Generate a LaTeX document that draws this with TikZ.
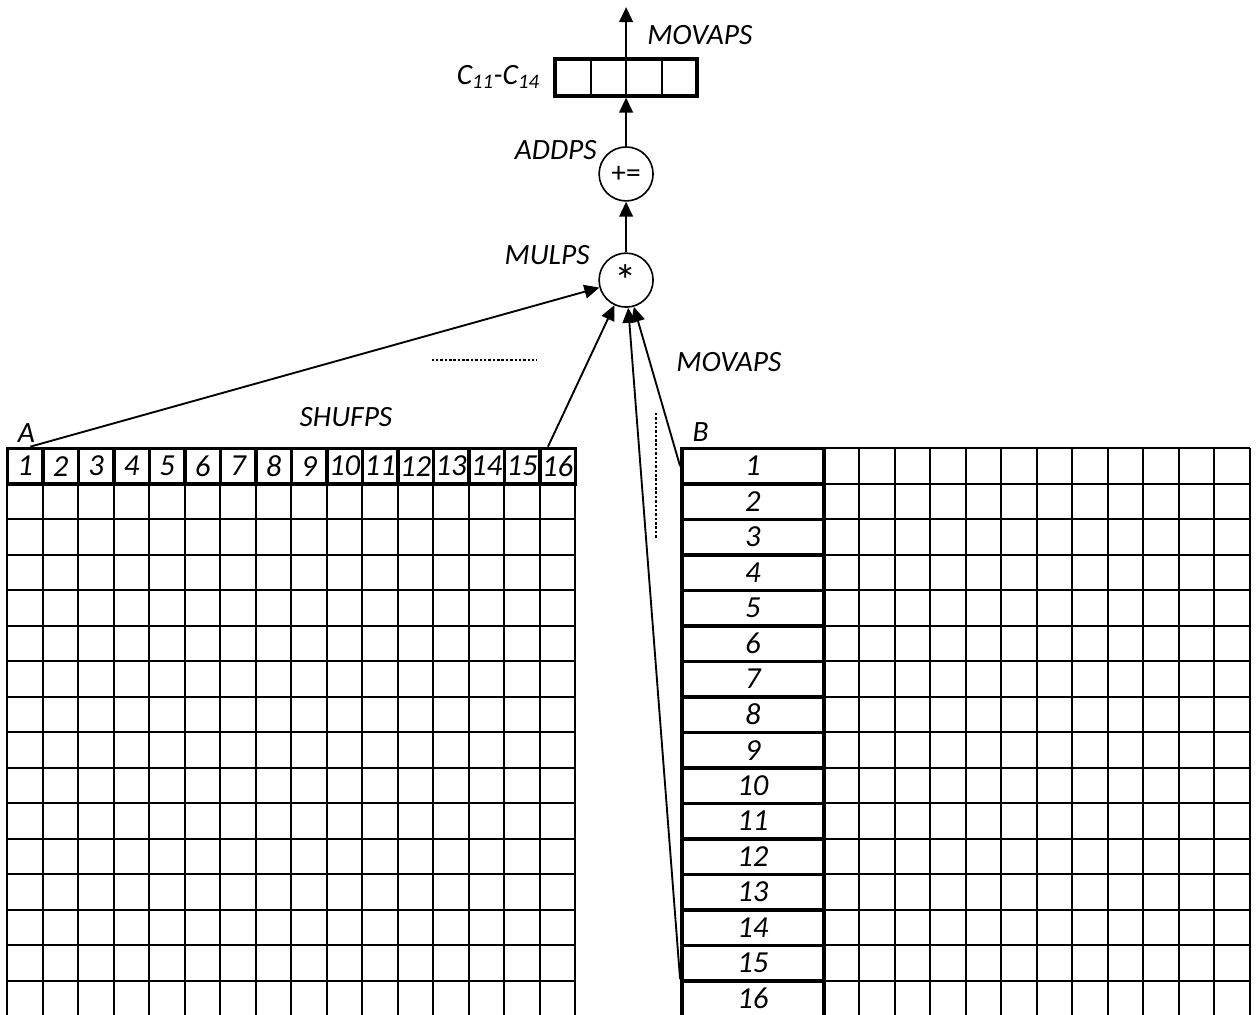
\documentclass[tikz,border=0pt]{standalone}
\usepackage{fontspec}
\setmainfont{Carlito}
\usetikzlibrary{arrows.meta,calc}

\begin{document}
\begin{tikzpicture}[x=1cm,y=1cm,
  gridln/.style={line width=1.6pt},
  cellbox/.style={draw,line width=2.8pt,minimum width=1cm,minimum height=1cm,inner sep=0pt,
    font=\fontsize{24.5}{28}\selectfont\itshape},
  opnode/.style={circle,draw,line width=1.3pt,minimum size=1.52cm,inner sep=0pt,
    font=\fontsize{23.6}{28}\selectfont},
  lbl/.style={inner sep=0pt,font=\fontsize{23.6}{28}\selectfont\itshape},
  arr/.style={line width=1.5pt,-{Triangle[width=11pt,length=12pt]}},
  dotln/.style={line width=1.1pt,dash pattern=on 2pt off 1.5pt}]
  \useasboundingbox (-0.206,-15.96) rectangle (35.23,12.63);
  % thin grids of A and B
  \draw[gridln] (0,-1) grid (16,-15.96);
  \draw[gridln] (23,0) grid (35,-15.96);
  % first row of A, first column of B
  \foreach \i in {1,...,16}
    \node[cellbox] (a\i) at (\i-0.5,-0.5) {\i};
  \foreach \i in {1,...,16}
    \node[cellbox,minimum width=4cm] (b\i) at (21,0.5-\i) {\i};
  % result and operations
  \node[cellbox,minimum width=4cm,minimum height=1.04cm] (cbox) at (17.43,10.45) {};
  \foreach \k in {1,2,3}
    \draw[gridln] ($(cbox.center)+(\k-2,-0.52)$) -- ($(cbox.center)+(\k-2,0.52)$);
  \node[opnode] (add) at (17.43,7.73) {+=};
  \node[opnode,font=\fontsize{36}{40}\selectfont] (mul) at (17.43,4.74) {*};
  \coordinate (top) at (17.43,12.43);
  % labels
  \node[lbl,anchor=west] (movtop) at (18.02,11.64) {MOVAPS};
  \node[lbl,anchor=east] (clbl) at (15.0,10.46) {C\textsubscript{11}-C\textsubscript{14}};
  \node[lbl,anchor=east] (addlbl) at (16.61,8.40) {ADDPS};
  \node[lbl,anchor=east] (mullbl) at (16.41,5.45) {MULPS};
  \node[lbl,anchor=west] (movlbl) at (18.84,2.43) {MOVAPS};
  \node[lbl] (shuflbl) at (9.54,0.88) {SHUFPS};
  \node[lbl] (albl) at (0.54,0.43) {A};
  \node[lbl] (blbl) at (19.53,0.46) {B};
  % dots
  \draw[dotln] (11.95,2.49) -- (14.91,2.49);
  \draw[dotln] (18.27,1.0) -- (18.27,-2.53);
  % arrows
  \draw[arr] ([xshift=0.15cm]a1.north) -- (mul);
  \draw[arr] ([xshift=-0.27cm]a16.north) -- (mul);
  \draw[arr] (b1.west) -- (mul);
  \draw[arr] (b16.north west) -- (mul);
  \draw[arr] (mul) -- (add);
  \draw[arr] (add) -- (cbox);
  \draw[arr] (cbox.south) -- (top);
\end{tikzpicture}
\end{document}
